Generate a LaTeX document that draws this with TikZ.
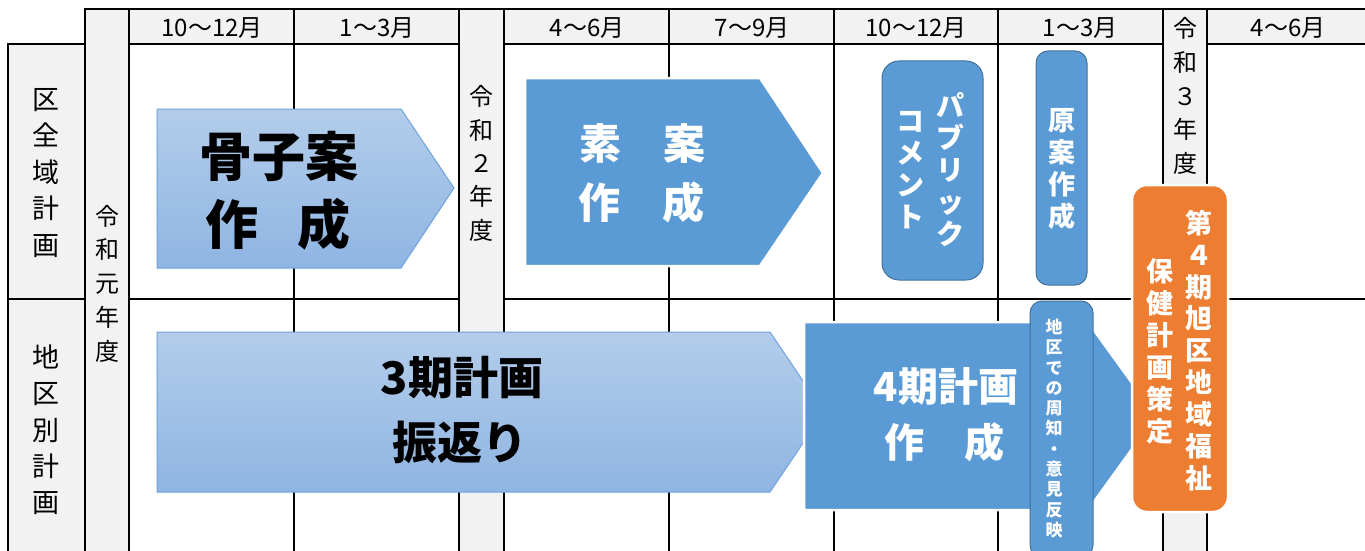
\documentclass[tikz,border=0pt]{standalone}
\usepackage{fontspec}
\setmainfont{Noto Sans CJK JP}
\definecolor{gridgray}{HTML}{F2F2F2}
\definecolor{mblue}{HTML}{5B9BD5}
\definecolor{dblue}{HTML}{41719C}
\definecolor{morange}{HTML}{ED7D31}
\definecolor{gtop}{HTML}{B3CDEA}
\definecolor{gbot}{HTML}{8FB5E3}
\definecolor{gborder}{HTML}{6FA2DA}
\tikzset{
  gridline/.style={line width=2.7pt, black, line cap=rect},
  gradarrow/.style={top color=gtop, bottom color=gbot, draw=gborder, line width=1pt},
  solidarrow/.style={fill=mblue, draw=white, line width=2.5pt},
  bluebox/.style={fill=mblue, draw=dblue, line width=1pt},
  orangebox/.style={fill=morange, draw=white, line width=2.5pt},
  hdr/.style={font=\fontsize{24}{28}\selectfont, inner sep=0pt},
  vlabel/.style={align=center, inner sep=0pt},
  btext/.style={font=\bfseries, inner sep=0pt},
}
\begin{document}
\begin{tikzpicture}[x=1pt,y=-1pt]
\useasboundingbox (0,0) rectangle (1365,551);
\fill[white] (0,0) rectangle (1365,551);
% grey areas
\fill[gridgray] (85,9) rectangle (1366,44);
\fill[gridgray] (85,9) rectangle (129,553);
\fill[gridgray] (459,9) rectangle (504,553);
\fill[gridgray] (1163,9) rectangle (1207,553);
\fill[gridgray] (8,44) rectangle (85,553);
% grid lines
\draw[gridline] (85,9) -- (1368,9);
\foreach \yy in {44,299}{
  \draw[gridline] (8,\yy) -- (85,\yy);
  \draw[gridline] (129,\yy) -- (459,\yy);
  \draw[gridline] (504,\yy) -- (1163,\yy);
  \draw[gridline] (1207,\yy) -- (1368,\yy);
}
\draw[gridline] (8,44) -- (8,555);
\foreach \xx in {85,129,294,459,504,669,834,998,1163,1207}{
  \draw[gridline] (\xx,9) -- (\xx,555);
}
% header labels
\node[hdr] (h1) at (212,28) {10〜12月};
\node[hdr] (h2) at (377,28) {1〜3月};
\node[hdr] (h3) at (587,28) {4〜6月};
\node[hdr] (h4) at (752,28) {7〜9月};
\node[hdr] (h5) at (916,28) {10〜12月};
\node[hdr] (h6) at (1080,28) {1〜3月};
\node[hdr] (h7) at (1288,28) {4〜6月};
% row labels
\node[vlabel, font=\fontsize{27}{36.5}\selectfont] (row1) at (46,173) {区\\全\\域\\計\\画};
\node[vlabel, font=\fontsize{27}{36.3}\selectfont] (row2) at (46,430) {地\\区\\別\\計\\画};
% year labels
\node[vlabel, font=\fontsize{24}{33.7}\selectfont] (y1) at (107,283.5) {令\\和\\元\\年\\度};
\node[vlabel, font=\fontsize{24}{33.3}\selectfont] (y2) at (481,163.5) {令\\和\\２\\年\\度};
\node[vlabel, font=\fontsize{24}{33.7}\selectfont] (y3) at (1185,96) {令\\和\\３\\年\\度};
% arrow: kosshian
\path[gradarrow] (157,109) -- (401,109) -- (454,188) -- (401,268) -- (157,268) -- cycle;
\node[btext, font=\fontsize{53}{60}\selectfont\bfseries] (k1) at (279,156) {骨子案};
\node[btext, font=\fontsize{53}{60}\selectfont\bfseries] (k2) at (278,224) {作\hspace{0.72em}成};
% arrow: soan
\path[solidarrow] (525,78) -- (760,78) -- (823,173) -- (760,266) -- (525,266) -- cycle;
\node[btext, white, font=\fontsize{42}{50}\selectfont\bfseries] (s1) at (642,143) {素　案};
\node[btext, white, font=\fontsize{42}{50}\selectfont\bfseries] (s2) at (641,202) {作　成};
% public comment
\path[bluebox, rounded corners=17pt] (882,61) rectangle (983,280);
\node[vlabel, white, font=\fontsize{28}{32}\selectfont\bfseries] (pc1) at (950,170) {パ\\ブ\\リ\\ッ\\ク};
\node[vlabel, white, font=\fontsize{28}{32}\selectfont\bfseries] (pc2) at (910,170) {コ\\メ\\ン\\ト};
% gen-an
\path[bluebox, rounded corners=12pt] (1036,51) rectangle (1087,285);
\node[vlabel, white, font=\fontsize{27}{32}\selectfont\bfseries] (ga) at (1062,169) {原\\案\\作\\成};
% arrow: 3ki
\path[gradarrow] (157,332) -- (770,332) -- (824,412) -- (770,492) -- (157,492) -- cycle;
\node[btext, font=\fontsize{45}{52}\selectfont\bfseries] (t1) at (462,378) {3期計画};
\node[btext, font=\fontsize{45}{52}\selectfont\bfseries] (t2) at (460,442) {振返り};
% arrow: 4ki
\path[solidarrow] (804,322) -- (1088,322) -- (1156,416) -- (1088,510) -- (804,510) -- cycle;
\node[btext, white, font=\fontsize{40}{48}\selectfont\bfseries] (f1) at (946,386) {4期計画};
\node[btext, white, font=\fontsize{40}{48}\selectfont\bfseries] (f2) at (944,442) {作　成};
% chiku box
\path[bluebox, rounded corners=12pt] (1030,301) rectangle (1093,557);
\node[vlabel, white, font=\fontsize{17}{20.3}\selectfont\bfseries] (ck) at (1054,428.5) {地\\区\\で\\の\\周\\知\\・\\意\\見\\反\\映};
% orange box
\path[orangebox, rounded corners=15pt] (1132,185) rectangle (1228,512);
\node[vlabel, white, font=\fontsize{27}{31.9}\selectfont\bfseries] (o1) at (1199,350.5) {第\\４\\期\\旭\\区\\地\\域\\福\\祉};
\node[vlabel, white, font=\fontsize{27}{32}\selectfont\bfseries] (o2) at (1160,351) {保\\健\\計\\画\\策\\定};
\end{tikzpicture}
\end{document}
